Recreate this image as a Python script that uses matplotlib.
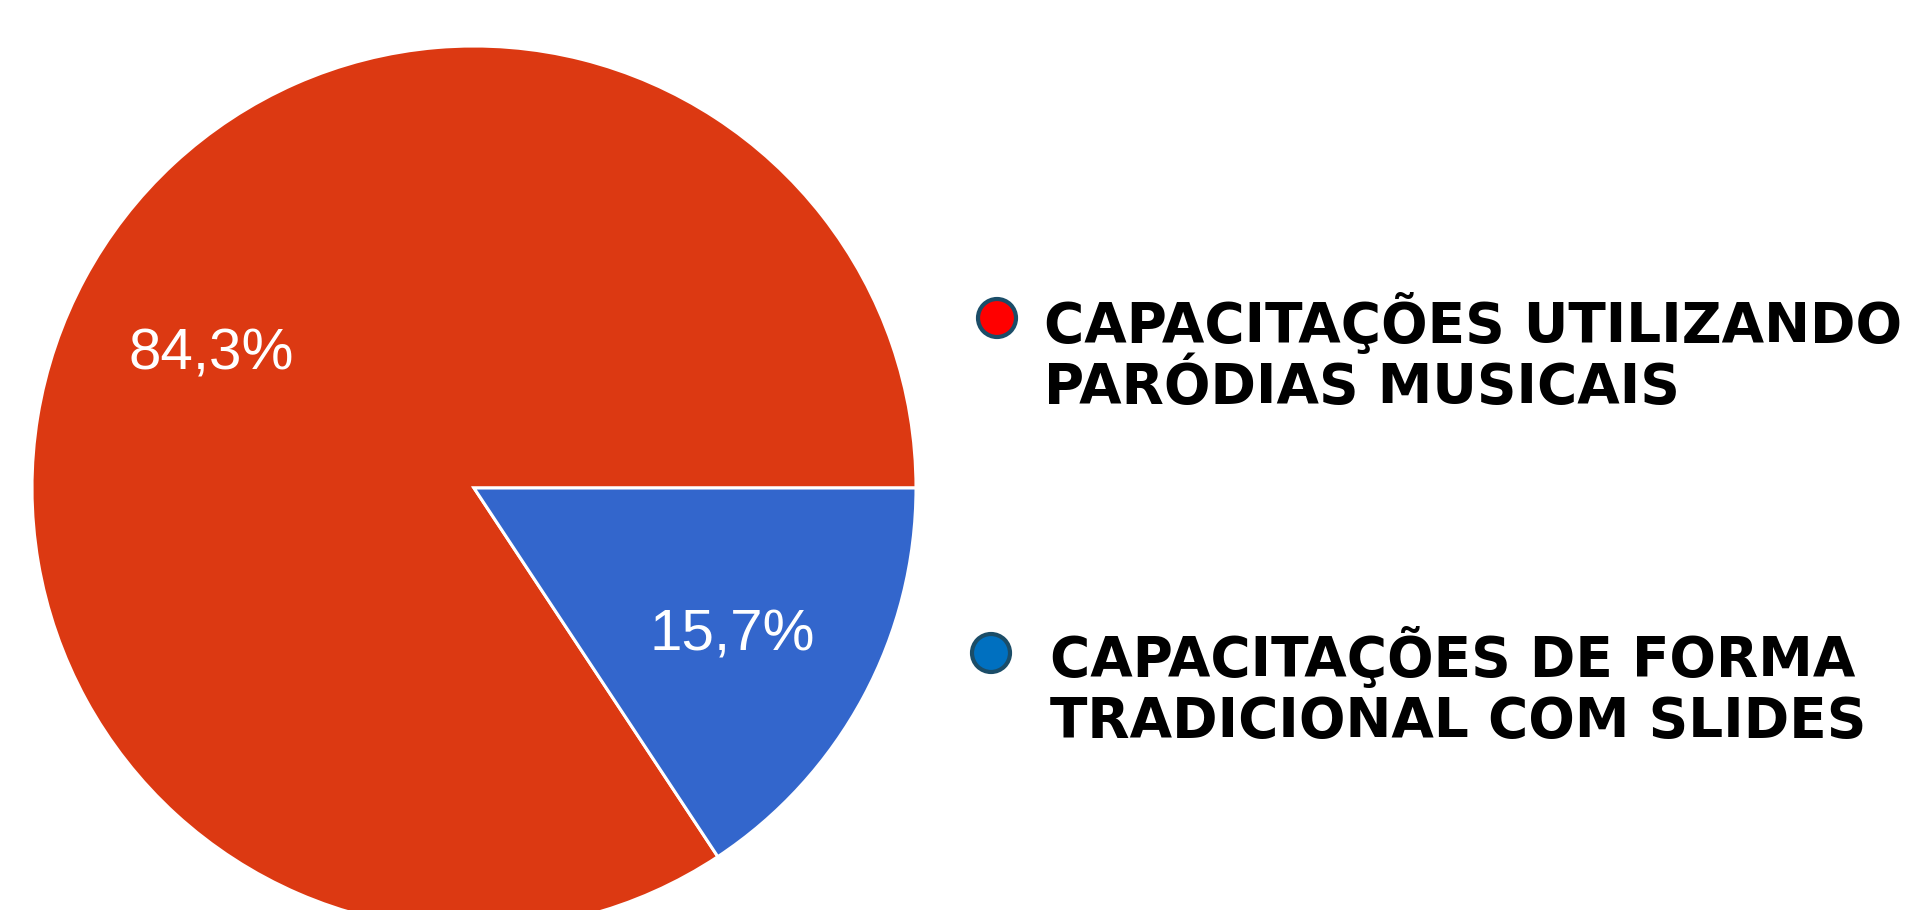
import matplotlib.pyplot as plt
from matplotlib.patches import Circle

# datos
categorias = ["CAPACITAÇÕES UTILIZANDO\nPARÓDIAS MUSICAIS",
              "CAPACITAÇÕES DE FORMA\nTRADICIONAL COM SLIDES"]
porcentajes = [84.3, 15.7]
colores_pie = ["#dc3912", "#3366cc"]
colores_marca = ["#ff0000", "#0070c0"]

W, H = 1914, 910
fig = plt.figure(figsize=(W / 100, H / 100), dpi=100)

# pie: centro (474, 488) px, radio 442 px
cx, cy, r = 474, 488, 442
ax = fig.add_axes([(cx - r) / W, (H - cy - r) / H, 2 * r / W, 2 * r / H])
wedges, texts, autotexts = ax.pie(
    porcentajes, colors=colores_pie, startangle=0, counterclock=True,
    autopct=lambda p: f"{p:.1f}".replace(".", ",") + "%",
    pctdistance=0.67,
    wedgeprops=dict(edgecolor="white", linewidth=2.2),
    textprops=dict(color="white", fontsize=42, family="Liberation Sans"))
# bajar un poco las etiquetas
for t in autotexts:
    x, y = t.get_position()
    t.set_position((x - 0.005, y - 0.016))
ax.set_xlim(-1, 1)
ax.set_ylim(-1, 1)
ax.axis("off")

# leyenda manual
ax2 = fig.add_axes([0, 0, 1, 1])
ax2.set_xlim(0, W)
ax2.set_ylim(H, 0)
ax2.axis("off")

marca_xy = [(997, 318), (991, 653)]
texto_x = [1044, 1050]
base_y = [342, 676]
for i, cat in enumerate(categorias):
    ax2.add_patch(Circle(marca_xy[i], 19, facecolor=colores_marca[i],
                         edgecolor="#1b4d68", linewidth=3))
    for j, linea in enumerate(cat.split("\n")):
        ax2.text(texto_x[i], base_y[i] + j * 61, linea, fontsize=39.5,
                 fontweight="bold", family="DejaVu Sans", va="baseline",
                 ha="left", color="black")

fig.savefig("out.png", dpi=100)
